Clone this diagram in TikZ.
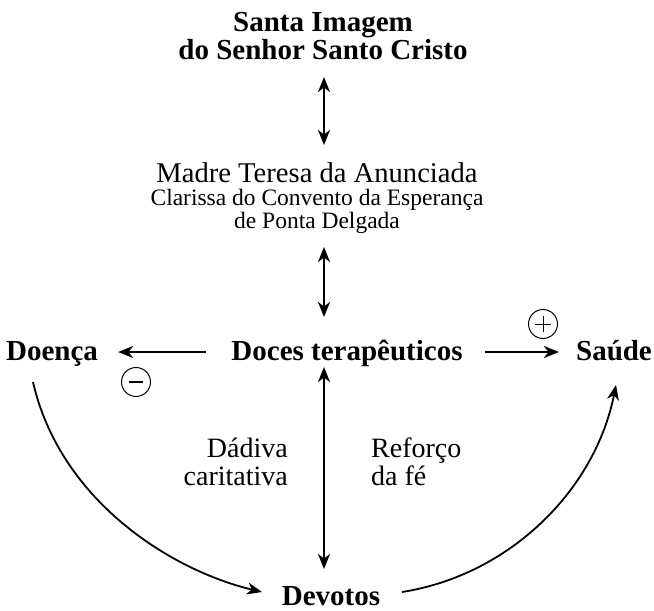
\documentclass[tikz,border=0pt]{standalone}
\usepackage{fontspec}
\setmainfont{Liberation Serif}
\usetikzlibrary{arrows.meta}
\begin{document}
\begin{tikzpicture}[x=1pt,y=-1pt,
  lbl/.style={inner sep=0pt, anchor=base, font=\fontsize{28}{28}\selectfont},
  mlbl/.style={inner sep=0pt, anchor=base, font=\fontsize{28.6}{28}\selectfont},
  slbl/.style={inner sep=0pt, anchor=base, font=\fontsize{23.5}{24}\selectfont},
  blbl/.style={inner sep=0pt, anchor=base, font=\fontsize{29}{29}\selectfont\bfseries},
  arr/.style={line width=2.2pt, -{Stealth[length=15pt,width=12pt,inset=4.5pt]}},
  darr/.style={line width=2.2pt, {Stealth[length=15pt,width=12pt,inset=4.5pt]}-{Stealth[length=15pt,width=12pt,inset=4.5pt]}},
  sgn/.style={draw, circle, line width=1pt, minimum size=29pt, inner sep=0pt}]
\useasboundingbox (0,0) rectangle (654,611);
\node[blbl] (santa) at (323,31) {Santa Imagem};
\node[blbl] (senhor) at (323,59) {do Senhor Santo Cristo};
\node[mlbl] (madre) at (317,182) {Madre Teresa da Anunciada};
\node[slbl] (clar) at (317,205) {Clarissa do Convento da Esperança};
\node[slbl] (ponta) at (317,228) {de Ponta Delgada};
\node[blbl] (doces) at (347,360) {Doces terapêuticos};
\node[blbl] (doenca) at (52,360) {Doença};
\node[blbl] (saude) at (614,360) {Saúde};
\node[blbl] (devotos) at (331,605) {Devotos};
\node[lbl, anchor=base east] (dadiva) at (288,457) {Dádiva};
\node[lbl, anchor=base east] (carit) at (288,485) {caritativa};
\node[lbl, anchor=base west] (reforco) at (371,457) {Reforço};
\node[lbl, anchor=base west] (dafe) at (371,485) {da fé};
\node[sgn] (minus) at (136,382) {};
\draw[line width=1.6pt] ([xshift=-7pt]minus.center) -- ([xshift=7pt]minus.center);
\node[sgn] (plus) at (543,324) {};
\draw[line width=1pt] ([xshift=-8pt]plus.center) -- ([xshift=8pt]plus.center)
  ([yshift=-8pt]plus.center) -- ([yshift=8pt]plus.center);
\coordinate (a1t) at (324,77); \coordinate (a1b) at (324,145);
\coordinate (a2t) at (324,247); \coordinate (a2b) at (324,317);
\coordinate (a3t) at (324,367); \coordinate (a3b) at (324,569);
\draw[darr] (a1t) -- (a1b);
\draw[darr] (a2t) -- (a2b);
\draw[darr] (a3t) -- (a3b);
\draw[arr] ([xshift=-25pt,yshift=8pt]doces.base west) -- ([xshift=20pt,yshift=8pt]doenca.base east);
\draw[arr] ([xshift=22pt,yshift=8pt]doces.base east) -- ([xshift=-17pt,yshift=8pt]saude.base west);
\coordinate (ls) at (33,382); \coordinate (le) at (262,592);
\coordinate (rs) at (402,592); \coordinate (re) at (616,385);
\draw[arr, line width=1.8pt] (ls) .. controls (60,500) and (170,570) .. (le);
\draw[arr, line width=1.8pt] (rs) .. controls (510,575) and (595,490) .. (re);
\end{tikzpicture}
\end{document}
